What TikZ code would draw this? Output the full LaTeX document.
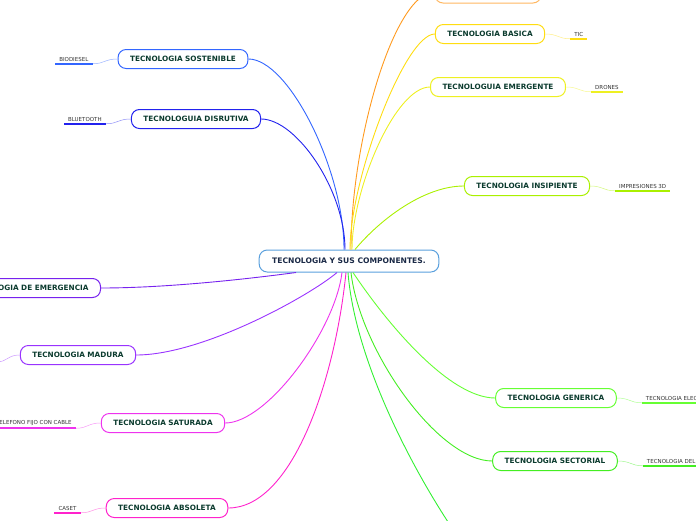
\documentclass[tikz,border=0pt]{standalone}
\usepackage{fontspec}
\setmainfont{DejaVu Sans}
\usepackage{xcolor}
\usepackage{tikz}
\usetikzlibrary{positioning}
\definecolor{ctext}{HTML}{0B3B2E}
\definecolor{cnavy}{HTML}{1B2A47}
\definecolor{ccenter}{HTML}{5AA0DD}
\definecolor{corange}{HTML}{FF9A1F}
\definecolor{cyelA}{HTML}{FFDD11}
\definecolor{cyelB}{HTML}{EEF022}
\definecolor{clime}{HTML}{AAF000}
\definecolor{cgrnA}{HTML}{66FF33}
\definecolor{cgrnB}{HTML}{44EE22}
\definecolor{cgrnC}{HTML}{33F033}
\definecolor{cblueA}{HTML}{3366FF}
\definecolor{cblueB}{HTML}{2222EE}
\definecolor{cviolA}{HTML}{7722EE}
\definecolor{cviolB}{HTML}{9933FF}
\definecolor{cmagA}{HTML}{EE33EE}
\definecolor{cmagB}{HTML}{FF22CC}

\begin{document}
\begin{tikzpicture}[x=1pt,y=-1pt,node distance=25pt,box/.style={draw,rounded corners=8pt,fill=white,line width=1pt,inner xsep=12pt,minimum height=19pt,font=\bfseries\fontsize{7.3}{8}\selectfont,text=ctext},leaf/.style={inner xsep=4pt,inner ysep=2.5pt,font=\fontsize{5.5}{6.5}\selectfont,text=black!80},link/.style={line width=0.9pt},sub/.style={line width=0.5pt},uline/.style={line width=1.6pt}]
\useasboundingbox (0,0) rectangle (696,520);
% centre
\node[box,draw=ccenter,text=cnavy,minimum height=22pt,inner xsep=13pt,font=\bfseries\fontsize{7.6}{8}\selectfont] (c) at (349,261) {TECNOLOGIA Y SUS COMPONENTES.};
% right side
\node[box,draw=corange!70,minimum width=106pt,minimum height=22pt] (orng) at (488,-8) {};
\node[box,draw=cyelA] (basi) at (490,34) {TECNOLOGIA BASICA};
\node[box,draw=cyelB] (emer) at (498,87) {TECNOLOGUIA EMERGENTE};
\node[box,draw=clime] (insi) at (527,186) {TECNOLOGIA INSIPIENTE};
\node[box,draw=cgrnA] (gene) at (556,398) {TECNOLOGIA GENERICA};
\node[box,draw=cgrnB] (sect) at (555,461) {TECNOLOGIA SECTORIAL};
\coordinate (bott) at (452,528);
% left side
\node[box,draw=cblueA] (sost) at (183,59) {TECNOLOGIA SOSTENIBLE};
\node[box,draw=cblueB] (disr) at (196,119) {TECNOLOGUIA DISRUTIVA};
\node[box,draw=cviolA,anchor=east] (emgc) at (101,288) {TECNOLOGIA DE EMERGENCIA};
\node[box,draw=cviolB] (madu) at (78,355) {TECNOLOGIA MADURA};
\node[box,draw=cmagA] (satu) at (163,423) {TECNOLOGIA SATURADA};
\node[box,draw=cmagB] (abso) at (167,508) {TECNOLOGIA ABSOLETA};
\coordinate (maduc) at (-4,362);
% leaves
\node[leaf,right=of basi] (tic) {TIC};
\node[leaf,right=of emer] (dron) {DRONES};
\node[leaf,right=of insi] (impr) {IMPRESIONES 3D};
\node[leaf,right=of gene] (elec) {TECNOLOGIA ELEC};
\node[leaf,right=of sect] (del) {TECNOLOGIA DEL};
\node[leaf,left=of sost] (bio) {BIODIESEL};
\node[leaf,left=of disr] (blue) {BLUETOOTH};
\node[leaf,left=of satu] (tele) {TELEFONO FIJO CON CABLE};
\node[leaf,left=of abso] (case) {CASET};
% main links
\draw[link,corange] ([xshift=2]c.north) .. controls +(0,-110) and +(-40,0) .. (orng.west);
\draw[link,cyelA] ([xshift=1]c.north) .. controls +(0,-70) and +(-30,0) .. (basi.west);
\draw[link,cyelB] ([xshift=3]c.north) .. controls +(0,-60) and +(-35,0) .. (emer.west);
\draw[link,clime] ([xshift=6]c.north) .. controls +(25,-30) and +(-40,0) .. (insi.west);
\draw[link,cgrnA] ([xshift=4]c.south) .. controls +(32,48) and +(-47,0) .. (gene.west);
\draw[link,cgrnB] ([xshift=2]c.south) .. controls +(9,78) and +(-54,0) .. (sect.west);
\draw[link,cgrnC] ([xshift=-1]c.south) .. controls +(7,88) and +(-40,-60) .. (bott);
\draw[link,cblueA] ([xshift=-5]c.north) .. controls +(0,-80) and +(40,0) .. (sost.east);
\draw[link,cblueB] ([xshift=-4]c.north) .. controls +(0,-60) and +(35,0) .. (disr.east);
\draw[link,cviolA] ([xshift=-53]c.south) .. controls +(-60,8) and +(60,0) .. (emgc.east);
\draw[link,cviolB] ([xshift=-12]c.south) .. controls +(-27,23) and +(67,0) .. (madu.east);
\draw[link,cmagA] ([xshift=-7]c.south) .. controls +(-7,58) and +(42,0) .. (satu.east);
\draw[link,cmagB] ([xshift=-3]c.south) .. controls +(-11,108) and +(64,0) .. (abso.east);
% leaf links
\draw[sub,cyelA!50] (basi.east) .. controls +(13,0) and +(-12,0) .. (tic.south west);
\draw[uline,cyelA] (tic.south west) -- (tic.south east);
\draw[sub,cyelB!50] (emer.east) .. controls +(13,0) and +(-12,0) .. (dron.south west);
\draw[uline,cyelB] (dron.south west) -- (dron.south east);
\draw[sub,clime!50] (insi.east) .. controls +(13,0) and +(-12,0) .. (impr.south west);
\draw[uline,clime] (impr.south west) -- (impr.south east);
\draw[sub,cgrnA!50] (gene.east) .. controls +(13,0) and +(-12,0) .. (elec.south west);
\draw[uline,cgrnA] (elec.south west) -- ++(70,0);
\draw[sub,cgrnB!50] (sect.east) .. controls +(13,0) and +(-12,0) .. (del.south west);
\draw[uline,cgrnB] (del.south west) -- ++(70,0);
\draw[sub,cblueA!50] (sost.west) .. controls +(-13,0) and +(12,0) .. (bio.south east);
\draw[uline,cblueA] (bio.south east) -- (bio.south west);
\draw[sub,cblueB!50] (disr.west) .. controls +(-13,0) and +(12,0) .. (blue.south east);
\draw[uline,cblueB] (blue.south east) -- (blue.south west);
\draw[sub,cviolB!50] (madu.west) .. controls +(-13,0) and +(12,0) .. (maduc);
\draw[sub,cmagA!50] (satu.west) .. controls +(-13,0) and +(12,0) .. (tele.south east);
\draw[uline,cmagA] (tele.south east) -- ++(-90,0);
\draw[sub,cmagB!50] (abso.west) .. controls +(-13,0) and +(12,0) .. (case.south east);
\draw[uline,cmagB] (case.south east) -- (case.south west);
\end{tikzpicture}
\end{document}
